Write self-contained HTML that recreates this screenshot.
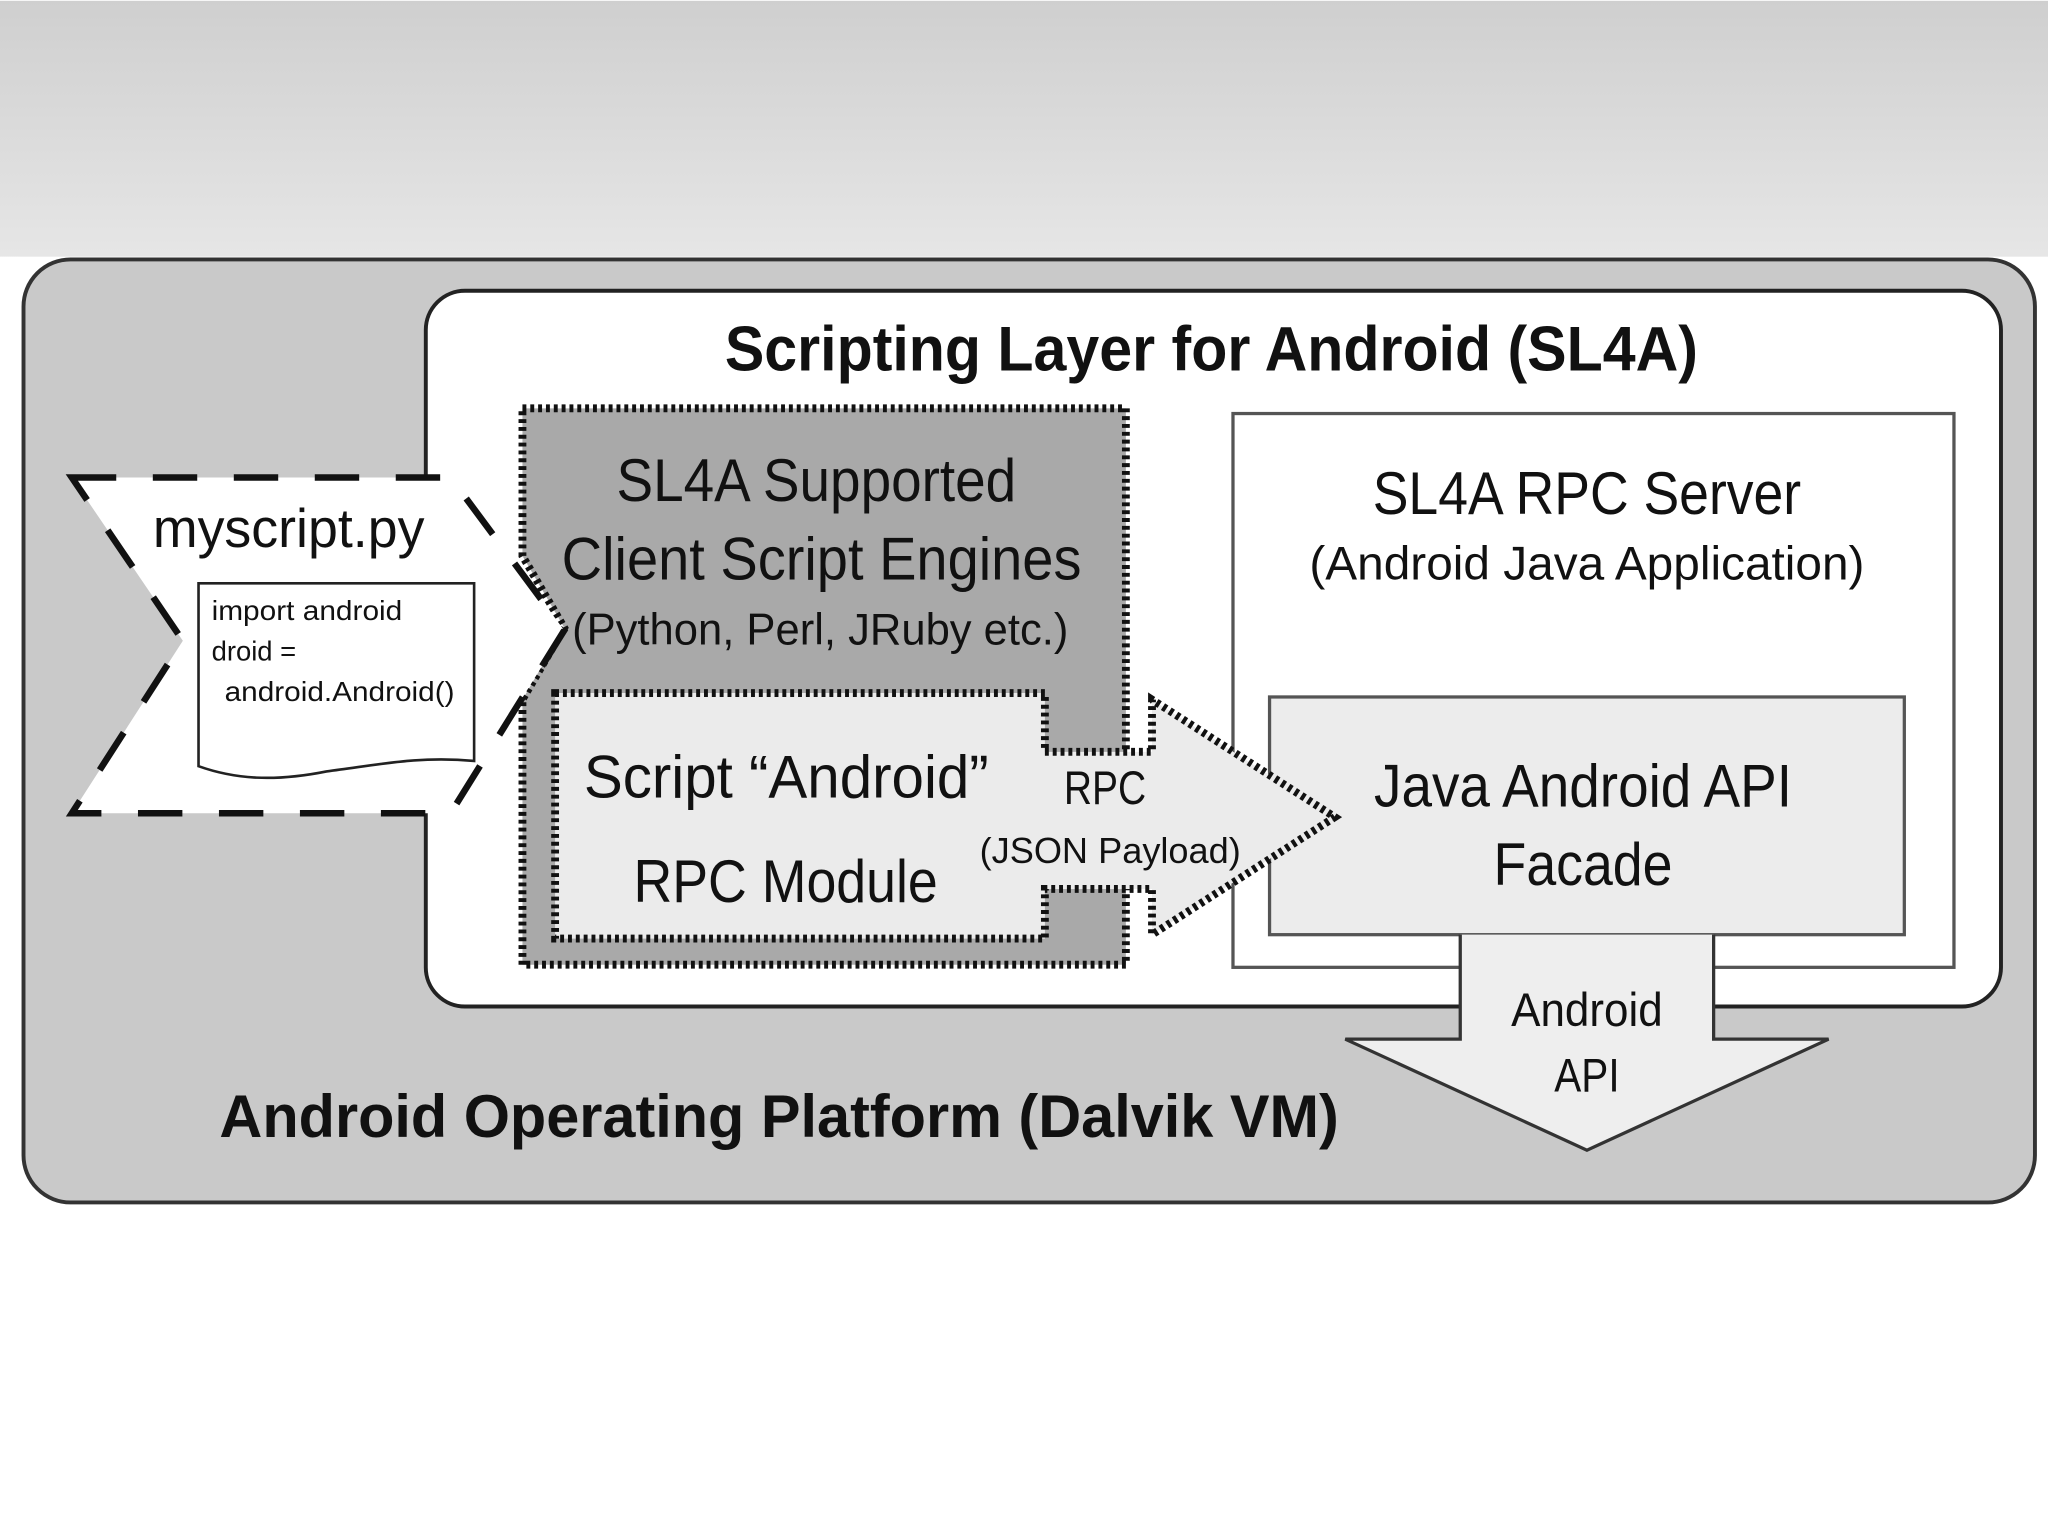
<!DOCTYPE html>
<html><head><meta charset="utf-8"><style>
html,body{margin:0;padding:0;background:#fff}
svg{display:block}
text{font-family:"Liberation Sans",sans-serif;fill:#111}
</style></head><body>
<svg width="2048" height="1535" viewBox="0 0 1568 1174" xmlns="http://www.w3.org/2000/svg">
<defs><linearGradient id="g" x1="0" y1="0" x2="0" y2="1"><stop offset="0" stop-color="#cfcfcf"/><stop offset="1" stop-color="#e6e6e6"/></linearGradient></defs>
<rect x="0" y="0" width="1568" height="196" fill="url(#g)"/>
<rect x="0" y="196" width="1568" height="978" fill="#fff"/>
<rect x="18" y="198" width="1540" height="722" rx="36" fill="#c9c9c9" stroke="#333" stroke-width="3"/>
<rect x="326" y="222" width="1206" height="548" rx="30" fill="#fff" stroke="#222" stroke-width="3"/>
<text x="555" y="283" font-size="48" font-weight="bold" textLength="745" lengthAdjust="spacingAndGlyphs">Scripting Layer for Android (SL4A)</text>
<path d="M400,312 L862,312 L862,738 L400,738 L400,535 L432,480 L400,425 Z" fill="#a9a9a9" stroke="#111" stroke-width="6" stroke-dasharray="3,3"/>
<path d="M55,365 L345,365 L432,482 L345,622 L55,622 L140,490 Z" fill="#fff" stroke="#111" stroke-width="5" stroke-dasharray="34,28"/>
<text x="117" y="418" font-size="42" textLength="208" lengthAdjust="spacingAndGlyphs">myscript.py</text>
<path d="M152,446 L363,446 L363,582 C320,578 290,585 250,590 C210,598 180,596 152,586 Z" fill="#fff" stroke="#222" stroke-width="2"/>
<text x="162" y="474" font-size="21" fill="#333" textLength="146" lengthAdjust="spacingAndGlyphs">import android</text>
<text x="162" y="505" font-size="21" fill="#333">droid =</text>
<text x="172" y="536" font-size="21" fill="#333" textLength="176" lengthAdjust="spacingAndGlyphs">android.Android()</text>
<text x="625" y="383" font-size="46" text-anchor="middle" textLength="306" lengthAdjust="spacingAndGlyphs">SL4A Supported</text>
<text x="629" y="443" font-size="46" text-anchor="middle" textLength="398" lengthAdjust="spacingAndGlyphs">Client Script Engines</text>
<text x="628" y="493" font-size="34" text-anchor="middle" textLength="380" lengthAdjust="spacingAndGlyphs">(Python, Perl, JRuby etc.)</text>
<rect x="944" y="316" width="552" height="424" fill="#fff" stroke="#555" stroke-width="2.5"/>
<text x="1215" y="393" font-size="46" text-anchor="middle" textLength="328" lengthAdjust="spacingAndGlyphs">SL4A RPC Server</text>
<text x="1215" y="443" font-size="36" text-anchor="middle" textLength="425" lengthAdjust="spacingAndGlyphs">(Android Java Application)</text>
<rect x="972" y="533" width="486" height="182" fill="#ececec" stroke="#555" stroke-width="2.5"/>
<path d="M425,530 L800,530 L800,575 L882,575 L882,535 L1022,625 L882,715 L882,680 L800,680 L800,718 L425,718 Z" fill="#ebebeb" stroke="#111" stroke-width="6" stroke-dasharray="3,3"/>
<text x="447" y="610" font-size="46" textLength="310" lengthAdjust="spacingAndGlyphs">Script “Android”</text>
<text x="485" y="690" font-size="46" textLength="233" lengthAdjust="spacingAndGlyphs">RPC Module</text>
<text x="846" y="615" font-size="36" text-anchor="middle" textLength="63" lengthAdjust="spacingAndGlyphs">RPC</text>
<text x="850" y="660" font-size="28" text-anchor="middle" textLength="200" lengthAdjust="spacingAndGlyphs">(JSON Payload)</text>
<text x="1212" y="617" font-size="46" text-anchor="middle" textLength="320" lengthAdjust="spacingAndGlyphs">Java Android API</text>
<text x="1212" y="677" font-size="46" text-anchor="middle" textLength="137" lengthAdjust="spacingAndGlyphs">Facade</text>
<path d="M1118,715 L1118,795 L1030,795 L1215,880 L1400,795 L1312,795 L1312,715" fill="#eeeeee" stroke="#333" stroke-width="2.5"/>
<text x="1215" y="785" font-size="36" text-anchor="middle" textLength="116" lengthAdjust="spacingAndGlyphs">Android</text>
<text x="1215" y="835" font-size="36" text-anchor="middle" textLength="50" lengthAdjust="spacingAndGlyphs">API</text>
<text x="168" y="870" font-size="46" font-weight="bold" textLength="857" lengthAdjust="spacingAndGlyphs">Android Operating Platform (Dalvik VM)</text>
<rect x="0" y="196" width="15" height="978" fill="#fff"/>
</svg>
</body></html>
